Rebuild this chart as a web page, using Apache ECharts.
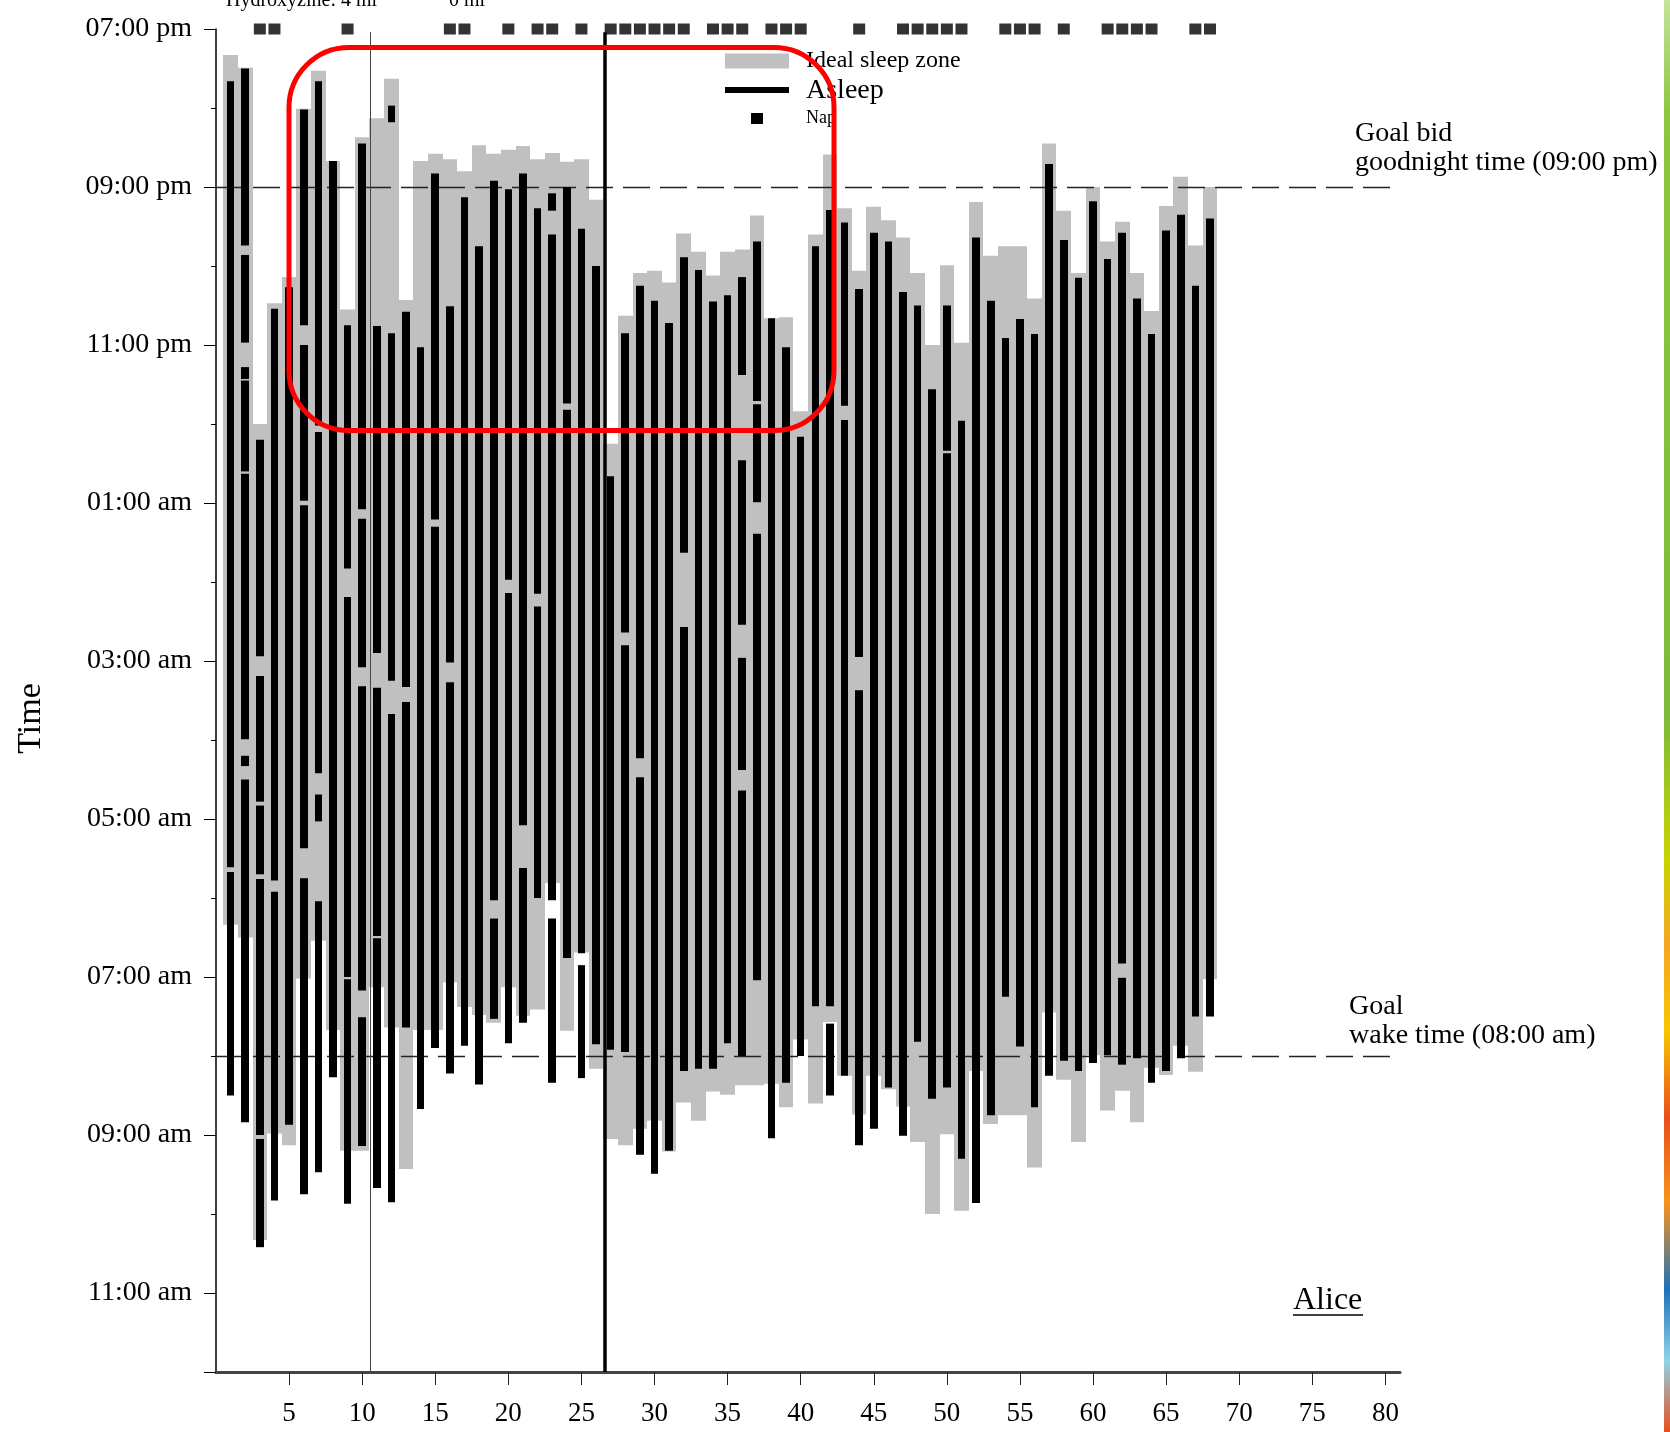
<!DOCTYPE html>
<html>
<head>
<meta charset="utf-8">
<script src="https://cdn.jsdelivr.net/npm/echarts@6/dist/echarts.min.js"></script>
<style>
  html, body { margin: 0; padding: 0; background: #fff; }
  #chart { width: 1670px; height: 1432px; }
</style>
</head>
<body>
<div id="chart"></div>
<script>
// Hours after 07:00 pm (0 = 07:00 pm, 13 = 08:00 am)
const hourTickLabels = ['07:00 pm','09:00 pm','11:00 pm','01:00 am','03:00 am','05:00 am','07:00 am','09:00 am','11:00 am'];
const dayTicks = [5,10,15,20,25,30,35,40,45,50,55,60,65,70,75,80];

// Ideal sleep zone per day (day 1..68): start and end
const idealStart = [0.33,0.49,5.0,3.47,3.14,1.01,0.53,1.67,3.55,1.37,
  1.13,0.63,3.43,1.67,1.58,1.65,1.8,1.47,1.58,1.53,
  1.48,1.65,1.57,1.68,1.65,2.16,5.25,3.63,3.09,3.06,
  3.21,2.59,2.82,3.12,2.82,2.79,2.36,3.66,3.65,4.84,
  2.6,1.59,2.27,3.06,2.25,2.42,2.64,3.09,4.0,2.99,
  3.97,2.19,2.87,2.75,2.75,3.41,1.45,2.3,3.09,2.0,
  2.69,2.44,3.09,3.57,2.24,1.87,2.74,2.0];
const idealEnd = [11.34,11.5,15.33,13.98,14.13,12.02,11.54,12.67,14.2,14.2,
  12.13,12.64,14.43,12.67,12.67,12.07,12.38,12.48,12.58,12.13,
  12.49,12.41,10.81,12.68,11.69,13.16,14.05,14.13,13.92,13.82,
  14.21,13.59,13.82,13.45,13.49,13.37,13.37,13.35,13.65,12.79,
  13.6,12.57,13.25,13.74,13.25,13.42,13.64,14.09,15.0,13.99,
  14.96,13.19,13.86,13.75,13.75,14.41,12.45,13.3,14.09,12.99,
  13.69,13.44,13.84,13.15,13.24,12.87,13.2,12.03];

// Asleep segments per day: [start, end]
const asleepSegments = [
  [[0.66,10.61],[10.67,13.5]],
  [[0.5,2.74],[2.86,3.97],[4.28,4.43],[4.45,5.6],[5.63,8.99],[9.2,9.33],[9.5,13.84]],
  [[5.2,7.94],[8.19,9.78],[9.83,10.7],[10.76,14.0],[14.05,15.42]],
  [[3.54,10.78],[10.92,14.83]],
  [[3.27,13.87]],
  [[1.02,3.75],[4.0,5.97],[6.03,10.37],[10.75,14.75]],
  [[0.66,5.02],[5.1,9.42],[9.69,10.03],[11.04,14.47]],
  [[1.67,13.27]],
  [[3.75,6.83],[7.19,12.0],[12.03,14.87]],
  [[1.45,6.08],[6.2,8.08],[8.32,12.17],[12.51,14.14]],
  [[3.76,7.9],[8.34,11.48],[11.51,14.67]],
  [[0.97,1.18],[3.85,8.25],[8.67,14.85]],
  [[3.58,8.33],[8.52,12.64]],
  [[4.03,13.67]],
  [[1.83,6.21],[6.3,12.9]],
  [[3.51,8.02],[8.27,13.22]],
  [[2.13,12.87]],
  [[2.75,13.36]],
  [[1.92,11.03],[11.26,12.53]],
  [[2.03,6.97],[7.14,12.84]],
  [[1.83,10.08],[10.62,12.58]],
  [[2.27,7.15],[7.31,11.0]],
  [[2.08,2.3],[2.6,11.03],[11.26,13.34]],
  [[2.0,4.74],[4.82,11.76]],
  [[2.53,11.7],[11.85,13.28]],
  [[3.0,12.85]],
  [[5.66,12.92]],
  [[3.85,7.64],[7.8,12.95]],
  [[3.25,9.23],[9.47,14.25]],
  [[3.44,14.49]],
  [[3.72,14.2]],
  [[2.89,6.63],[7.57,13.19]],
  [[3.05,13.16]],
  [[3.45,13.16]],
  [[3.37,12.84]],
  [[3.14,4.38],[5.46,7.54],[7.96,9.38],[9.64,13.0]],
  [[2.69,4.71],[4.75,5.99],[6.39,12.04]],
  [[3.66,14.04]],
  [[4.03,13.34]],
  [[5.16,13.0]],
  [[2.75,12.37]],
  [[2.29,12.37],[12.59,13.5]],
  [[2.45,4.77],[4.95,13.25]],
  [[3.29,7.95],[8.37,14.13]],
  [[2.58,13.92]],
  [[2.69,13.4]],
  [[3.33,14.01]],
  [[3.5,12.82]],
  [[4.56,13.54]],
  [[3.5,5.34],[5.37,13.4]],
  [[4.96,14.3]],
  [[2.64,14.86]],
  [[3.44,13.75]],
  [[3.91,12.25]],
  [[3.67,12.88]],
  [[3.86,13.65]],
  [[1.71,13.25]],
  [[2.67,13.06]],
  [[3.15,13.19]],
  [[2.18,13.09]],
  [[2.91,12.99]],
  [[2.58,11.83],[12.01,13.11]],
  [[3.41,13.03]],
  [[3.86,13.34]],
  [[2.55,13.19]],
  [[2.35,13.03]],
  [[3.25,12.5]],
  [[2.4,12.5]]
];

// Days with a nap
const napDays = [3,4,9,16,17,20,22,23,25,27,28,29,30,31,32,34,35,36,38,39,40,44,47,48,49,50,51,54,55,56,58,61,62,63,64,67,68];

// Goal times (hours after 07:00 pm) and medication change days
const goalBedtime = 2;
const goalWake = 13;
const medChangeDays = [10.54, 26.57];

const FONT = 'Liberation Serif';

const idealData = idealStart.map((s, i) => [i + 1, s, idealEnd[i]]);
const asleepData = [];
asleepSegments.forEach((segs, i) => segs.forEach(([s, e]) => asleepData.push([i + 1, s, e])));

function barRenderer(half, color) {
  return function (params, api) {
    const d = api.value(0);
    const p1 = api.coord([d - half, api.value(1)]);
    const p2 = api.coord([d + half, api.value(2)]);
    const x = Math.round(p1[0]);
    const w = Math.round(p2[0]) - x;
    return {
      type: 'rect',
      shape: { x: x, y: p1[1], width: w, height: p2[1] - p1[1] },
      style: { fill: color }
    };
  };
}

const chart = echarts.init(document.getElementById('chart'), null, { renderer: 'canvas' });

chart.setOption({
  animation: false,
  backgroundColor: '#ffffff',
  textStyle: { fontFamily: FONT },
  title: {
    text: 'Alice',
    left: 1293, top: 1285, padding: 0,
    textStyle: { fontFamily: FONT, fontSize: 32, fontWeight: 'normal', color: '#000' }
  },
  grid: { left: 216, top: 29, right: 270, bottom: 60, containLabel: false },
  xAxis: {
    type: 'value', min: 0, max: 81, position: 'bottom',
    splitLine: { show: false },
    axisLine: { show: true, onZero: false, lineStyle: { color: '#444', width: 3 } },
    axisTick: { show: true, length: 13, customValues: dayTicks, lineStyle: { color: '#222', width: 1 } },
    axisLabel: { customValues: dayTicks, margin: 28, fontFamily: FONT, fontSize: 27, color: '#000' }
  },
  yAxis: {
    type: 'value', min: 0, max: 17, interval: 2, inverse: true,
    name: 'Time', nameLocation: 'middle', nameGap: 168,
    nameTextStyle: { fontFamily: FONT, fontSize: 34, color: '#000', padding: [0, 36, 0, 0] },
    splitLine: { show: false },
    axisLine: { show: true, onZero: false, lineStyle: { color: '#000', width: 1.5 } },
    axisTick: { show: true, length: 12, lineStyle: { color: '#000', width: 1 } },
    minorTick: { show: true, splitNumber: 2, length: 5, lineStyle: { color: '#000', width: 1 } },
    axisLabel: {
      margin: 24, fontFamily: FONT, fontSize: 28, color: '#000', showMaxLabel: false,
      formatter: v => hourTickLabels[Math.round(v / 2)] || ''
    }
  },
  series: [
    {
      name: 'Ideal sleep zone', type: 'custom', z: 1, clip: false, silent: true,
      renderItem: barRenderer(0.5, '#c0c0c0'),
      encode: { x: 0, y: [1, 2] },
      data: idealData
    },
    {
      name: 'Goal lines', type: 'line', z: 2, data: [], silent: true,
      markLine: {
        z: 2, silent: true, symbol: ['none', 'none'], label: { show: false },
        lineStyle: { color: '#222', width: 1.3, type: [27, 10] },
        data: [
          [{ coord: [0, goalBedtime] }, { coord: [81, goalBedtime] }],
          [{ coord: [0, goalWake] }, { coord: [81, goalWake] }]
        ]
      }
    },
    {
      name: 'Asleep', type: 'custom', z: 3, clip: false, silent: true,
      renderItem: barRenderer(0.26, '#000000'),
      encode: { x: 0, y: [1, 2] },
      data: asleepData
    },
    {
      name: 'Nap', type: 'scatter', z: 4, clip: false, silent: true,
      symbol: 'rect', symbolSize: [12, 11],
      itemStyle: { color: '#000' },
      data: napDays.map(d => [d, 0])
    },
    {
      name: 'Medication change', type: 'line', z: 5, data: [], silent: true,
      markLine: {
        z: 5, silent: true, symbol: ['none', 'none'], label: { show: false },
        data: [
          [{ coord: [medChangeDays[0], 0.04], lineStyle: { color: '#444', width: 1, type: 'solid' } },
           { coord: [medChangeDays[0], 17] }],
          [{ coord: [medChangeDays[1], 0.04], lineStyle: { color: '#000', width: 3.5, type: 'solid' } },
           { coord: [medChangeDays[1], 17] }]
        ]
      }
    }
  ],
  graphic: [
    // legend
    { type: 'rect', z: 50, shape: { x: 725, y: 53.5, width: 64, height: 15 }, style: { fill: '#c0c0c0' } },
    { type: 'rect', z: 50, shape: { x: 725, y: 87, width: 64, height: 6 }, style: { fill: '#000' } },
    { type: 'rect', z: 50, shape: { x: 751, y: 113, width: 12, height: 11 }, style: { fill: '#000' } },
    { type: 'text', z: 50, x: 806, y: 61, style: { text: 'Ideal sleep zone', font: '24px "Liberation Serif"', fill: '#000', verticalAlign: 'middle' } },
    { type: 'text', z: 50, x: 806, y: 91, style: { text: 'Asleep', font: '28px "Liberation Serif"', fill: '#000', verticalAlign: 'middle' } },
    { type: 'text', z: 50, x: 806, y: 118, style: { text: 'Nap', font: '18px "Liberation Serif"', fill: '#000', verticalAlign: 'middle' } },
    // medication annotations (cut at the top edge)
    { type: 'text', z: 50, x: 226, y: 11, style: { text: 'Hydroxyzine: 4 ml', font: '20px "Liberation Serif"', fill: '#000', verticalAlign: 'bottom' } },
    { type: 'text', z: 50, x: 449, y: 11, style: { text: '0 ml', font: '20px "Liberation Serif"', fill: '#000', verticalAlign: 'bottom' } },
    // goal labels
    { type: 'text', z: 50, x: 1355, y: 134, style: { text: 'Goal bid', font: '28px "Liberation Serif"', fill: '#000', verticalAlign: 'middle' } },
    { type: 'text', z: 50, x: 1355, y: 163, style: { text: 'goodnight time (09:00 pm)', font: '28px "Liberation Serif"', fill: '#000', verticalAlign: 'middle' } },
    { type: 'text', z: 50, x: 1349, y: 1007, style: { text: 'Goal', font: '28px "Liberation Serif"', fill: '#000', verticalAlign: 'middle' } },
    { type: 'text', z: 50, x: 1349, y: 1036, style: { text: 'wake time (08:00 am)', font: '28px "Liberation Serif"', fill: '#000', verticalAlign: 'middle' } },
    // underline for Alice
    { type: 'line', z: 50, shape: { x1: 1293, y1: 1315, x2: 1363, y2: 1315 }, style: { stroke: '#000', lineWidth: 1.5 } },
    // red highlight rounded rectangle
    { type: 'rect', z: 100, shape: { x: 289, y: 47.5, width: 545, height: 383, r: 60 }, style: { fill: 'none', stroke: '#ff0000', lineWidth: 5 } },
    // decorative colour strip at the right edge
    { type: 'rect', z: 100, shape: { x: 1664, y: 0, width: 6, height: 1432 },
      style: { fill: new echarts.graphic.LinearGradient(0, 0, 0, 1, [
        { offset: 0, color: '#c5e39a' }, { offset: 0.08, color: '#8cc63e' },
        { offset: 0.5, color: '#7dbb3a' }, { offset: 0.6, color: '#c8d400' },
        { offset: 0.66, color: '#f5a623' }, { offset: 0.72, color: '#f7c600' },
        { offset: 0.78, color: '#e94e1b' }, { offset: 0.84, color: '#f7941d' },
        { offset: 0.9, color: '#1d71b8' }, { offset: 0.95, color: '#8fd3e8' },
        { offset: 1, color: '#e94e1b' }
      ]) } }
  ]
});
</script>
</body>
</html>
